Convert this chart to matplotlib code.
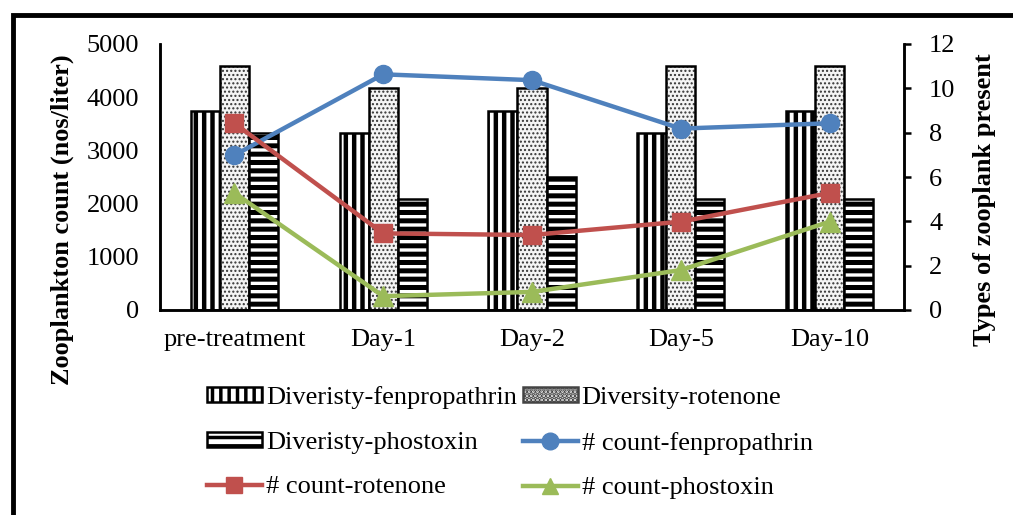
import matplotlib
matplotlib.use("Agg")
import matplotlib.pyplot as plt
import numpy as np
from matplotlib.patches import Rectangle, Patch
from matplotlib.lines import Line2D

categories = ['pre-treatment', 'Day-1', 'Day-2', 'Day-5', 'Day-10']
div_fen = [9, 8, 9, 8, 9]
div_rot = [11, 10, 10, 11, 11]
div_pho = [8, 5, 6, 5, 5]
cnt_fen = [2910, 4430, 4320, 3410, 3510]
cnt_rot = [3510, 1440, 1410, 1660, 2200]
cnt_pho = [2200, 260, 340, 750, 1660]

plt.rcParams['font.family'] = ['Liberation Serif', 'DejaVu Serif']
FS = 19
LFS = 19

fig = plt.figure(figsize=(10.13, 5.15), dpi=100)
ax = fig.add_axes([160/1013, 1-310/515, (904-160)/1013, (310-44)/515])
ax2 = ax.twinx()

x = np.arange(len(categories))
w = 0.195

def hbar(axis, xs, vals, hatch, hcolor, hlw, fc='white'):
    plt.rcParams['hatch.linewidth'] = hlw
    bars = axis.bar(xs, vals, w, color=fc, edgecolor=hcolor, hatch=hatch, linewidth=0)
    for b in bars:
        if hasattr(b, 'set_hatch_linewidth'):
            b.set_hatch_linewidth(hlw)
    axis.bar(xs, vals, w, facecolor='none', edgecolor='black', linewidth=1.8)

hbar(ax2, x - w, div_fen, '||', 'black', 3.2)
hbar(ax2, x, div_rot, '....', '#333333', 1.0, fc='#f4f4f4')
hbar(ax2, x + w, div_pho, '--', 'black', 3.6)

ax.plot(x, cnt_fen, color='#4F81BD', lw=3.2, marker='o', ms=13, zorder=5)
ax.plot(x, cnt_rot, color='#C0504D', lw=3.2, marker='s', ms=13, zorder=5)
ax.plot(x, cnt_pho, color='#9BBB59', lw=3.2, marker='^', ms=14, zorder=5)

ax.set_zorder(ax2.get_zorder() + 1)
ax.patch.set_visible(False)

ax.set_xlim(-0.5, 4.5)
ax.set_ylim(0, 5000)
ax.set_yticks([0, 1000, 2000, 3000, 4000, 5000])
ax2.set_ylim(0, 12)
ax2.set_yticks([0, 2, 4, 6, 8, 10, 12])
ax.set_xticks(x)
ax.set_xticklabels(categories, fontsize=FS)
ax.tick_params(axis='x', length=0, pad=14)
ax.tick_params(axis='y', length=0, labelsize=FS, pad=15)
ax2.tick_params(axis='y', length=5, width=1.8, direction='out', labelsize=FS, pad=13)
ax2.tick_params(axis='x', length=0)

for a in (ax, ax2):
    a.spines['top'].set_visible(False)
    for s in ('left', 'right', 'bottom'):
        a.spines[s].set_linewidth(1.8)

fig.text(62/1013, 1-220/515, 'Zooplankton count (nos/liter)', rotation=90, fontsize=FS,
         fontweight='bold', ha='center', va='center')
fig.text(984/1013, 1-200/515, 'Types of zooplank present', rotation=90, fontsize=FS,
         fontweight='bold', ha='center', va='center')

# legend
plt.rcParams['hatch.linewidth'] = 2.5
h_dfen = Patch(facecolor='white', edgecolor='black', hatch='||', linewidth=1.8)
h_drot = Patch(facecolor='#e8e8e8', edgecolor='#444444', hatch='....', linewidth=1.8)
h_dpho = Patch(facecolor='white', edgecolor='black', hatch='--', linewidth=1.8)
h_cfen = Line2D([], [], color='#4F81BD', lw=3.2, marker='o', ms=12)
h_crot = Line2D([], [], color='#C0504D', lw=3.2, marker='s', ms=12)
h_cpho = Line2D([], [], color='#9BBB59', lw=3.2, marker='^', ms=12)
handles = [h_dfen, h_dpho, h_crot, h_drot, h_cfen, h_cpho]
labels = ['Diveristy-fenpropathrin', 'Diveristy-phostoxin', '# count-rotenone',
          'Diversity-rotenone', '# count-fenpropathrin', '# count-phostoxin']
fig.legend(handles, labels, ncol=2, loc='upper left', bbox_to_anchor=(207/1013, 1-386/515),
           frameon=False, fontsize=LFS, handlelength=2.08, handleheight=0.5, handletextpad=0.15,
           columnspacing=0.23, labelspacing=0.86, borderpad=0, borderaxespad=0)

# outer frame
fig.patches.append(Rectangle((12.5/1013, -0.2), 1.2, 1.2 - 14.5/515, transform=fig.transFigure,
                             fill=False, edgecolor='black', linewidth=3.5, clip_on=False))

fig.savefig('out.png', dpi=100)
